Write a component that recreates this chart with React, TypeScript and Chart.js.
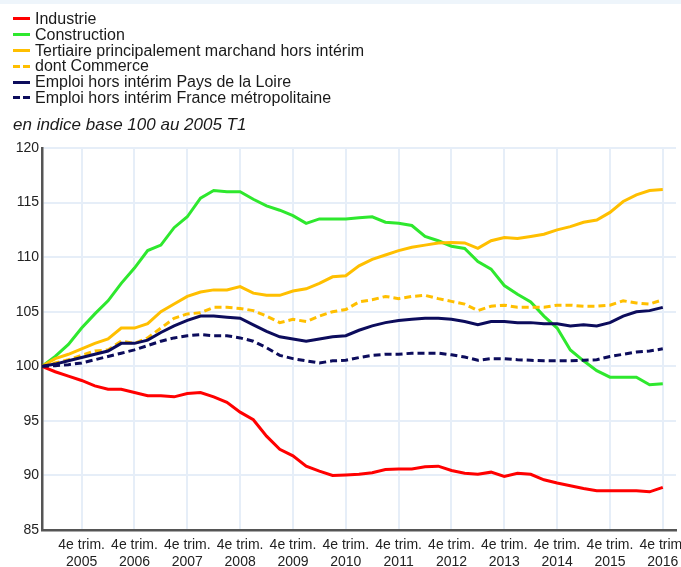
import React, { useEffect, useRef } from "react";
import { Chart, registerables } from "chart.js";

Chart.register(...registerables);

const tickYears = ["2005", "2006", "2007", "2008", "2009", "2010", "2011", "2012", "2013", "2014", "2015", "2016"];
const tickLine1 = "4e trim.";

const industrie = [100, 99.5, 99.1, 98.7, 98.2, 97.9, 97.9, 97.6, 97.3, 97.3, 97.2, 97.5, 97.6, 97.2, 96.7, 95.8, 95.1, 93.6, 92.4, 91.8, 90.85, 90.4, 90.0, 90.05, 90.1, 90.25, 90.55, 90.6, 90.6, 90.8, 90.85, 90.45, 90.2, 90.1, 90.3, 89.9, 90.2, 90.1, 89.6, 89.3, 89.05, 88.8, 88.6, 88.6, 88.6, 88.6, 88.5, 88.9];
const construction = [100, 100.9, 102.0, 103.5, 104.8, 106.0, 107.6, 109.0, 110.6, 111.1, 112.7, 113.7, 115.4, 116.1, 116.0, 116.0, 115.3, 114.7, 114.3, 113.8, 113.1, 113.5, 113.5, 113.5, 113.6, 113.7, 113.2, 113.1, 112.9, 111.9, 111.5, 111.0, 110.8, 109.6, 108.9, 107.4, 106.6, 105.9, 104.6, 103.5, 101.5, 100.5, 99.6, 99.0, 99.0, 99.0, 98.3, 98.4];
const tertiaire = [100, 100.7, 101.1, 101.6, 102.1, 102.5, 103.5, 103.5, 103.9, 105.0, 105.7, 106.4, 106.8, 107.0, 107.0, 107.3, 106.7, 106.5, 106.5, 106.9, 107.1, 107.6, 108.2, 108.3, 109.2, 109.8, 110.2, 110.6, 110.9, 111.1, 111.3, 111.35, 111.3, 110.8, 111.5, 111.8, 111.7, 111.9, 112.1, 112.5, 112.8, 113.2, 113.4, 114.1, 115.1, 115.7, 116.1, 116.2];
const commerce = [100, 100.3, 100.6, 101.0, 101.4, 101.5, 102.3, 102.1, 102.6, 103.5, 104.4, 104.8, 104.9, 105.4, 105.4, 105.3, 105.1, 104.6, 104.0, 104.3, 104.1, 104.6, 105.0, 105.2, 105.9, 106.1, 106.4, 106.2, 106.4, 106.5, 106.2, 105.95, 105.7, 105.1, 105.5, 105.6, 105.4, 105.4, 105.4, 105.6, 105.6, 105.5, 105.5, 105.6, 106.0, 105.8, 105.7, 106.1];
const paysDeLaLoire = [100, 100.2, 100.5, 100.8, 101.1, 101.4, 102.1, 102.1, 102.4, 103.1, 103.7, 104.2, 104.6, 104.6, 104.5, 104.4, 103.8, 103.2, 102.7, 102.5, 102.3, 102.5, 102.7, 102.8, 103.3, 103.7, 104.0, 104.2, 104.3, 104.4, 104.4, 104.3, 104.1, 103.8, 104.1, 104.1, 104.0, 104.0, 103.9, 103.9, 103.7, 103.8, 103.7, 104.0, 104.6, 105.0, 105.1, 105.4];
const franceMetro = [100, 100.05, 100.15, 100.3, 100.6, 100.9, 101.2, 101.5, 101.9, 102.3, 102.6, 102.8, 102.9, 102.8, 102.8, 102.6, 102.3, 101.7, 101.0, 100.7, 100.5, 100.3, 100.5, 100.55, 100.8, 101.0, 101.1, 101.1, 101.2, 101.2, 101.2, 101.05, 100.85, 100.55, 100.7, 100.7, 100.6, 100.55, 100.5, 100.5, 100.5, 100.55, 100.6, 100.9, 101.1, 101.3, 101.4, 101.6];

const seriesNames = [
  "Industrie",
  "Construction",
  "Tertiaire principalement marchand hors intérim",
  "dont Commerce",
  "Emploi hors intérim Pays de la Loire",
  "Emploi hors intérim France métropolitaine",
];
const seriesValues = [industrie, construction, tertiaire, commerce, paysDeLaLoire, franceMetro];
const seriesColors = ["#ff0000", "#2ee82e", "#ffbf00", "#ffbf00", "#0c0c5c", "#0c0c5c"];
const seriesDashed = [false, false, false, true, false, true];

const FONT = "'Liberation Sans', Arial, Helvetica, sans-serif";

export default function App() {
  const canvasRef = useRef<HTMLCanvasElement | null>(null);

  useEffect(() => {
    const canvas = canvasRef.current;
    if (!canvas) return;
    const datasets = seriesNames.map((name, s) => ({
      label: name,
      data: seriesValues[s].map((v, i) => ({ x: i, y: v })),
      borderColor: seriesColors[s],
      backgroundColor: seriesColors[s],
      borderWidth: 3,
      borderDash: seriesDashed[s] ? [7, 4] : [],
      pointRadius: 0,
      tension: 0,
      fill: false,
      order: seriesNames.length - s,
    }));
    const chart = new Chart(canvas, {
      type: "line",
      data: { datasets },
      options: {
        responsive: false,
        animation: false,
        layout: { padding: { top: 148, right: 5, left: 0, bottom: 0 } },
        plugins: { legend: { display: false }, tooltip: { enabled: false }, title: { display: false } },
        scales: {
          x: {
            type: "linear",
            min: 0,
            max: 48,
            grid: { color: "#e6eef8", lineWidth: 2, drawTicks: false },
            border: { display: true, color: "#555555", width: 2.5 },
            afterBuildTicks: (scale: any) => {
              scale.ticks = tickYears.map((_, k) => ({ value: 3 + 4 * k }));
            },
            afterFit: (scale: any) => {
              scale.height = 37;
              scale.paddingLeft = 0;
              scale.paddingRight = 0;
            },
            ticks: {
              autoSkip: false,
              maxRotation: 0,
              minRotation: 0,
              padding: 7,
              color: "#222222",
              font: { family: FONT, size: 14, lineHeight: 1.2 },
              callback: (value: any) => {
                const k = Math.round((Number(value) - 3) / 4);
                return [tickLine1, tickYears[k] ?? ""];
              },
            },
          },
          y: {
            min: 85,
            max: 120,
            grid: { color: "#e6eef8", lineWidth: 2, drawTicks: false },
            border: { display: true, color: "#555555", width: 2.5 },
            afterFit: (scale: any) => {
              scale.width = 42;
              scale.paddingTop = 0;
              scale.paddingBottom = 0;
            },
            ticks: {
              stepSize: 5,
              padding: 3,
              color: "#222222",
              font: { family: FONT, size: 14 },
            },
          },
        },
      },
    });
    return () => chart.destroy();
  }, []);

  return (
    <div style={{ position: "fixed", left: 0, top: 0, width: 681, height: 567, background: "#ffffff", overflow: "hidden", fontFamily: FONT }}>
      <div style={{ position: "absolute", left: 0, top: 0, width: 681, height: 4, background: "#eef5fb" }} />
      <canvas ref={canvasRef} width={681} height={567} style={{ position: "absolute", left: 0, top: 0, width: 681, height: 567 }} />
      <div style={{ position: "absolute", left: 13, top: 11 }}>
        {seriesNames.map((name, s) => (
          <div key={name} style={{ display: "flex", alignItems: "center", height: 15.8, fontSize: 16, lineHeight: "16px", color: "#1a1a1a", whiteSpace: "nowrap" }}>
            <div style={{ width: 17, height: 3, marginRight: 5, display: "flex", justifyContent: "space-between", flexShrink: 0 }}>
              {seriesDashed[s] ? (
                <>
                  <div style={{ width: 7, height: 3, background: seriesColors[s] }} />
                  <div style={{ width: 7, height: 3, background: seriesColors[s] }} />
                </>
              ) : (
                <div style={{ width: 17, height: 3, background: seriesColors[s] }} />
              )}
            </div>
            <span>{name}</span>
          </div>
        ))}
      </div>
      <div style={{ position: "absolute", left: 13, top: 115, fontSize: 17, fontStyle: "italic", color: "#1a1a1a", whiteSpace: "nowrap", lineHeight: "20px" }}>
        en indice base 100 au 2005 T1
      </div>
    </div>
  );
}
